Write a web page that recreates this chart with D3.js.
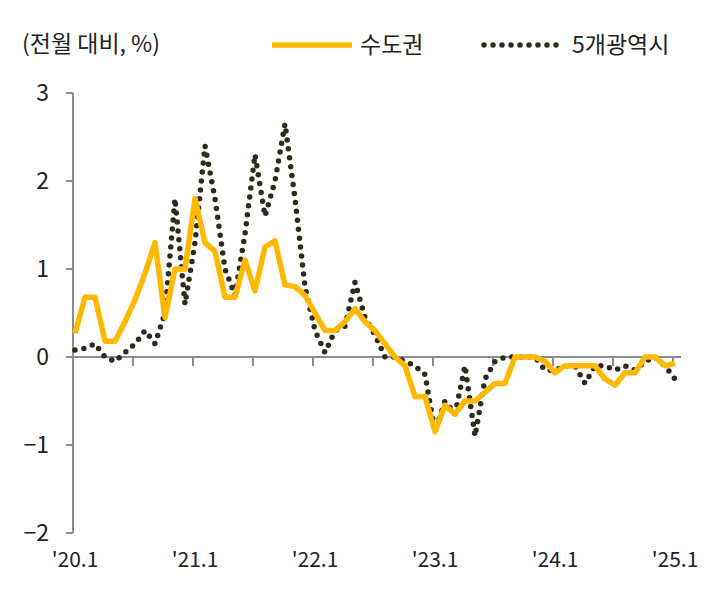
<!DOCTYPE html>
<html><head><meta charset="utf-8">
<script src="https://cdn.jsdelivr.net/npm/d3@7"></script>
<style>body{margin:0;background:#fff;font-family:"Noto Sans CJK KR","Noto Sans",sans-serif;}</style>
</head><body><svg id="c" width="725" height="592"></svg>
<script>
// 전월 대비 변동률 (%), 2020.1 ~ 2025.1 월별
var metro = [0.27,0.68,0.68,0.18,0.18,0.4,0.65,0.95,1.3,0.45,1.0,1.0,1.8,1.3,1.2,0.68,0.68,1.1,0.75,1.25,1.32,0.82,0.8,0.7,0.5,0.3,0.3,0.4,0.55,0.4,0.3,0.15,0.0,-0.1,-0.45,-0.45,-0.85,-0.55,-0.65,-0.5,-0.5,-0.4,-0.3,-0.3,0.0,0.0,0.0,-0.05,-0.18,-0.1,-0.1,-0.1,-0.1,-0.25,-0.32,-0.18,-0.18,0.0,0.0,-0.1,-0.07];
var cities = [0.08,0.1,0.15,0.0,-0.05,0.05,0.15,0.3,0.15,0.5,1.8,0.6,1.3,2.4,1.8,1.0,0.7,1.4,2.3,1.6,2.0,2.65,1.8,0.8,0.3,0.05,0.3,0.35,0.85,0.45,0.25,0.0,0.0,-0.05,-0.1,-0.2,-0.85,-0.5,-0.65,-0.1,-0.9,-0.25,-0.05,0.0,0.0,0.0,0.0,-0.15,-0.15,-0.1,-0.1,-0.3,-0.1,-0.1,-0.15,-0.1,-0.15,-0.05,0.0,-0.1,-0.25];
var yTicks = [-2,-1,0,1,2,3];
var xLabels = ["'20.1","'21.1","'22.1","'23.1","'24.1","'25.1"];

var svg = d3.select("#c");
var x = d3.scaleLinear().domain([0,60]).range([75,675]);
var y = d3.scaleLinear().domain([-2,3]).range([533,93]);
var grey = "#8c8c8c";

// y axis
svg.append("line").attr("x1",x(0)-2).attr("x2",x(0)-2).attr("y1",y(3)).attr("y2",y(-2)).attr("stroke",grey).attr("stroke-width",2);
yTicks.forEach(function(t){
  svg.append("line").attr("x1",x(0)-9).attr("x2",x(0)-2).attr("y1",y(t)).attr("y2",y(t)).attr("stroke",grey).attr("stroke-width",2);
  svg.append("text").attr("x",x(0)-26).attr("y",y(t)+8).attr("text-anchor","end").attr("font-size",23).attr("fill","#222").text(t<0?"\u2212"+(-t):t);
});
// x axis at zero
svg.append("line").attr("x1",x(0)-2).attr("x2",x(60)+6).attr("y1",y(0)).attr("y2",y(0)).attr("stroke",grey).attr("stroke-width",2);
d3.range(0,61,6).forEach(function(m){
  svg.append("line").attr("x1",x(m)-2).attr("x2",x(m)-2).attr("y1",y(0)).attr("y2",y(0)+9).attr("stroke",grey).attr("stroke-width",2);
});
xLabels.forEach(function(l,i){
  svg.append("text").attr("x",x(i*12)).attr("y",567).attr("text-anchor","middle").attr("font-size",21).attr("fill","#222").text(l);
});

var line = d3.line().x(function(d,i){return x(i);}).y(function(d){return y(d);});
svg.append("path").attr("d",line(cities)).attr("fill","none").attr("stroke","#2f2b1c").attr("stroke-width",5.5)
  .attr("stroke-linecap","round").attr("stroke-dasharray","0 9");
svg.append("path").attr("d",line(metro)).attr("fill","none").attr("stroke","#ffb800").attr("stroke-width",5.5).attr("stroke-linejoin","round");

// title & legend
svg.append("text").attr("x",22).attr("y",52).attr("font-size",23).attr("fill","#222").text("(전월 대비, %)");
svg.append("line").attr("x1",272).attr("x2",352).attr("y1",45).attr("y2",45).attr("stroke","#ffb800").attr("stroke-width",5.5);
svg.append("text").attr("x",360).attr("y",53).attr("font-size",23).attr("fill","#222").text("수도권");
svg.append("line").attr("x1",484).attr("x2",562).attr("y1",45).attr("y2",45).attr("stroke","#2f2b1c").attr("stroke-width",5.5).attr("stroke-linecap","round").attr("stroke-dasharray","0 9");
svg.append("text").attr("x",572).attr("y",53).attr("font-size",23).attr("fill","#222").text("5개광역시");
</script></body></html>
